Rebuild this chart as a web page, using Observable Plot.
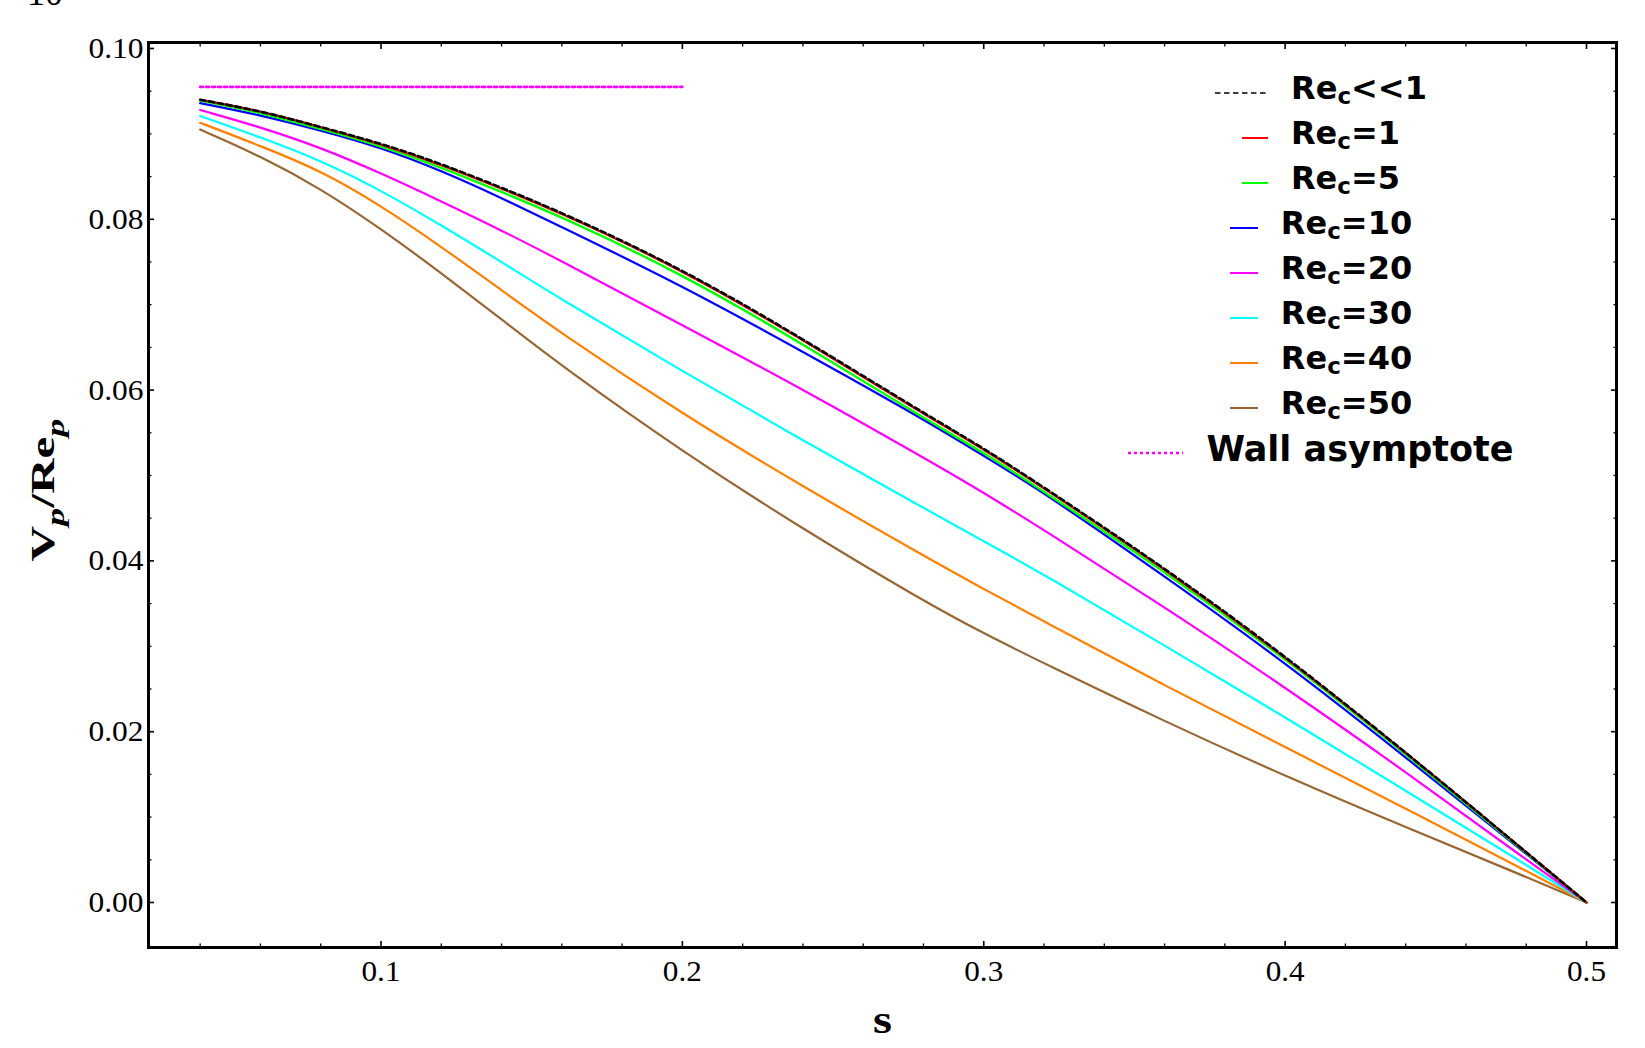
<!DOCTYPE html>
<html>
<head>
<meta charset="utf-8">
<script src="https://cdn.jsdelivr.net/npm/d3@7"></script>
<script src="https://cdn.jsdelivr.net/npm/@observablehq/plot@0.6"></script>
<style>
  html, body { margin: 0; padding: 0; background: #fff; }
  #wrap { position: relative; width: 1645px; height: 1048px; overflow: hidden; background: #fff; }
  #legend { position: absolute; left: 1071px; top: 67px; width: 500px; }
  #legend .row { height: 45px; display: flex; justify-content: center; align-items: center; }
  #legend .row svg { display: block; margin-right: 23px; transform: translateY(3px); }
  #legend .row span { font-family: "DejaVu Sans", sans-serif; font-weight: bold; font-size: 32px; color: #000; white-space: nowrap; line-height: 35px; }
  #legend .row span.big { font-size: 35px; }
  #legend sub { font-size: 0.72em; position: relative; top: 0.26em; vertical-align: baseline; }
</style>
</head>
<body>
<div id="wrap"></div>
<script>
// ---- data ----
const sValues = [0.04, 0.06, 0.08, 0.10, 0.12, 0.14, 0.16, 0.20, 0.24, 0.28, 0.30, 0.32, 0.36, 0.40, 0.44, 0.48, 0.50];
const vReLow = [0.0940, 0.0927, 0.0908, 0.0889, 0.0865, 0.0837, 0.0808, 0.0742, 0.0660, 0.0573, 0.0532, 0.0486, 0.0392, 0.0289, 0.0176, 0.0059, 0];
const vRe1   = [0.0940, 0.0927, 0.0908, 0.0888, 0.0864, 0.0836, 0.0807, 0.0741, 0.0659, 0.0572, 0.0531, 0.0485, 0.0391, 0.0288, 0.0176, 0.0059, 0];
const vRe5   = [0.0939, 0.0925, 0.0906, 0.0886, 0.0861, 0.0832, 0.0803, 0.0736, 0.0654, 0.0567, 0.0527, 0.0481, 0.0388, 0.0286, 0.0174, 0.0058, 0];
const vRe10  = [0.0936, 0.0922, 0.0904, 0.0884, 0.0857, 0.0825, 0.0791, 0.0722, 0.0645, 0.0566, 0.0523, 0.0480, 0.0382, 0.0281, 0.0170, 0.0057, 0];
const vRe20  = [0.0928, 0.0908, 0.0884, 0.0854, 0.0821, 0.0787, 0.0751, 0.0676, 0.0601, 0.0521, 0.0480, 0.0436, 0.0346, 0.0252, 0.0153, 0.0050, 0];
const vRe30  = [0.0921, 0.0896, 0.0869, 0.0834, 0.0793, 0.0750, 0.0706, 0.0622, 0.0541, 0.0462, 0.0423, 0.0384, 0.0301, 0.0217, 0.0131, 0.0044, 0];
const vRe40  = [0.0913, 0.0886, 0.0857, 0.0816, 0.0768, 0.0717, 0.0666, 0.0572, 0.0487, 0.0406, 0.0367, 0.0329, 0.0254, 0.0182, 0.0110, 0.0037, 0];
const vRe50  = [0.0905, 0.0874, 0.0836, 0.0789, 0.0737, 0.0683, 0.0628, 0.0528, 0.0437, 0.0353, 0.0315, 0.0280, 0.0212, 0.0148, 0.0088, 0.0030, 0];
const wallS  = [0.04, 0.20];
const wallV  = [0.0955, 0.0955];

const xTickLabels = [0.1, 0.2, 0.3, 0.4, 0.5];
const yTickLabels = [0.00, 0.02, 0.04, 0.06, 0.08, 0.10];

const legendLabels = ["Re<sub>c</sub>&lt;&lt;1", "Re<sub>c</sub>=1", "Re<sub>c</sub>=5", "Re<sub>c</sub>=10",
  "Re<sub>c</sub>=20", "Re<sub>c</sub>=30", "Re<sub>c</sub>=40", "Re<sub>c</sub>=50", "Wall asymptote"];

// ---- styles (kept apart from data) ----
const seriesDefs = [
  {values: vRe50, stroke: "#996633", width: 2.2},
  {values: vRe40, stroke: "#ff8000", width: 2.2},
  {values: vRe30, stroke: "#00ffff", width: 2.2},
  {values: vRe20, stroke: "#ff00ff", width: 2.2},
  {values: vRe10, stroke: "#0000ff", width: 2.2},
  {values: vRe5,  stroke: "#00ff00", width: 2.4},
  {values: vRe1,  stroke: "#ff0000", width: 2.2},
  {values: vReLow, stroke: "#000000", width: 2.6, dash: "5.5,3.5"}
];

const rows = (vals) => sValues.map((s, i) => ({s, v: vals[i]}));
const wallRows = wallS.map((s, i) => ({s, v: wallV[i]}));

const xMinor = d3.range(2, 25).filter(i => i % 5 !== 0).map(i => i / 50);
const yMinor = d3.range(1, 20).filter(i => i % 4 !== 0).map(i => i / 200);

const tickCommon = {label: null, stroke: "black"};
const serifFont = "Liberation Serif, Times New Roman, serif";

const lineMarks = seriesDefs.map(d => Plot.line(rows(d.values), {
  x: "s", y: "v", stroke: d.stroke, strokeWidth: d.width,
  strokeDasharray: d.dash, curve: "basis"
}));

const chart = Plot.plot({
  width: 1645,
  height: 1048,
  marginLeft: 148,
  marginRight: 29,
  marginTop: 42,
  marginBottom: 101,
  style: {background: "white", color: "black"},
  x: {domain: [0.02286, 0.50995]},
  y: {domain: [-0.00527, 0.1007]},
  marks: [
    ...lineMarks,
    Plot.line(wallRows, {x: "s", y: "v", stroke: "#ff00ff", strokeWidth: 2.6, strokeDasharray: "3,3"}),
    Plot.frame({stroke: "black", strokeWidth: 3}),
    // major ticks, inward, all four sides
    Plot.axisX({...tickCommon, anchor: "bottom", ticks: xTickLabels, tickSize: -6, strokeWidth: 1.6, fill: "none"}),
    Plot.axisX({...tickCommon, anchor: "top", ticks: xTickLabels, tickSize: -6, strokeWidth: 1.6, fill: "none"}),
    Plot.axisY({...tickCommon, anchor: "left", ticks: yTickLabels, tickSize: -6, strokeWidth: 1.6, fill: "none"}),
    Plot.axisY({...tickCommon, anchor: "right", ticks: yTickLabels, tickSize: -6, strokeWidth: 1.6, fill: "none"}),
    // minor ticks
    Plot.axisX({...tickCommon, anchor: "bottom", ticks: xMinor, tickSize: -3.5, strokeWidth: 1.3, fill: "none"}),
    Plot.axisX({...tickCommon, anchor: "top", ticks: xMinor, tickSize: -3.5, strokeWidth: 1.3, fill: "none"}),
    Plot.axisY({...tickCommon, anchor: "left", ticks: yMinor, tickSize: -3.5, strokeWidth: 1.3, fill: "none"}),
    Plot.axisY({...tickCommon, anchor: "right", ticks: yMinor, tickSize: -3.5, strokeWidth: 1.3, fill: "none"}),
    // tick labels
    Plot.axisX({label: null, anchor: "bottom", ticks: xTickLabels, tickSize: 0, tickPadding: 12,
      tickFormat: d3.format(".1f"), fontSize: 30, fontFamily: serifFont, fill: "black"}),
    Plot.axisY({label: null, anchor: "left", ticks: yTickLabels, tickSize: 0, tickPadding: 5,
      tickFormat: d3.format(".2f"), fontSize: 30, fontFamily: serifFont, fill: "black"})
  ]
});

document.getElementById("wrap").appendChild(chart);

// widen serif tick labels to match the reference's wide serif face
chart.querySelectorAll('[aria-label="y-axis tick label"] text').forEach(t => {
  t.setAttribute("textLength", 55); t.setAttribute("lengthAdjust", "spacingAndGlyphs");
});
chart.querySelectorAll('[aria-label="x-axis tick label"] text').forEach(t => {
  t.setAttribute("textLength", 39); t.setAttribute("lengthAdjust", "spacingAndGlyphs");
});

const svg = d3.select(chart);

// x-axis title
svg.append("text")
  .attr("transform", "translate(882.5,1033) scale(1.22,1)")
  .attr("text-anchor", "middle")
  .attr("font-family", serifFont).attr("font-weight", "bold").attr("font-size", 40)
  .attr("fill", "black")
  .text("s");

// y-axis title: V_p / Re_p
const yt = svg.append("text")
  .attr("transform", "translate(54,490) rotate(-90) scale(1.45,1)")
  .attr("text-anchor", "middle")
  .attr("font-family", serifFont).attr("font-weight", "bold").attr("font-size", 34)
  .attr("fill", "black");
yt.append("tspan").text("V");
yt.append("tspan").attr("font-style", "italic").attr("font-size", 25).attr("dy", 10).text("p");
yt.append("tspan").attr("dy", -10).text("/Re");
yt.append("tspan").attr("font-style", "italic").attr("font-size", 25).attr("dy", 10).text("p");

// page-number fragment at the top edge (cut off in the reference too)
svg.append("text")
  .attr("x", 27).attr("y", 5)
  .attr("text-anchor", "start")
  .attr("font-family", serifFont).attr("font-size", 36)
  .attr("fill", "black")
  .text("10");

// legend (HTML, centred rows)
const legendSamples = [
  {stroke: "#000000", w: 53, dash: "5.5,3.5", sw: 1.6},
  {stroke: "#ff0000", w: 26, sw: 2},
  {stroke: "#00ff00", w: 26, sw: 2},
  {stroke: "#0000ff", w: 28, sw: 2},
  {stroke: "#ff00ff", w: 28, sw: 2},
  {stroke: "#00ffff", w: 28, sw: 2},
  {stroke: "#ff8000", w: 28, sw: 2},
  {stroke: "#996633", w: 28, sw: 2},
  {stroke: "#ff00ff", w: 55, dash: "3,3", sw: 2.6}
];
const legend = d3.select("#wrap").append("div").attr("id", "legend");
legendLabels.forEach((lab, i) => {
  const smp = legendSamples[i];
  const row = legend.append("div").attr("class", "row");
  const s = row.append("svg").attr("width", smp.w).attr("height", 8);
  s.append("line").attr("x1", 0).attr("x2", smp.w).attr("y1", 4).attr("y2", 4)
    .attr("stroke", smp.stroke).attr("stroke-width", smp.sw)
    .attr("stroke-dasharray", smp.dash || null);
  row.append("span").attr("class", i === legendLabels.length - 1 ? "big" : null).html(lab);
});
</script>
</body>
</html>
